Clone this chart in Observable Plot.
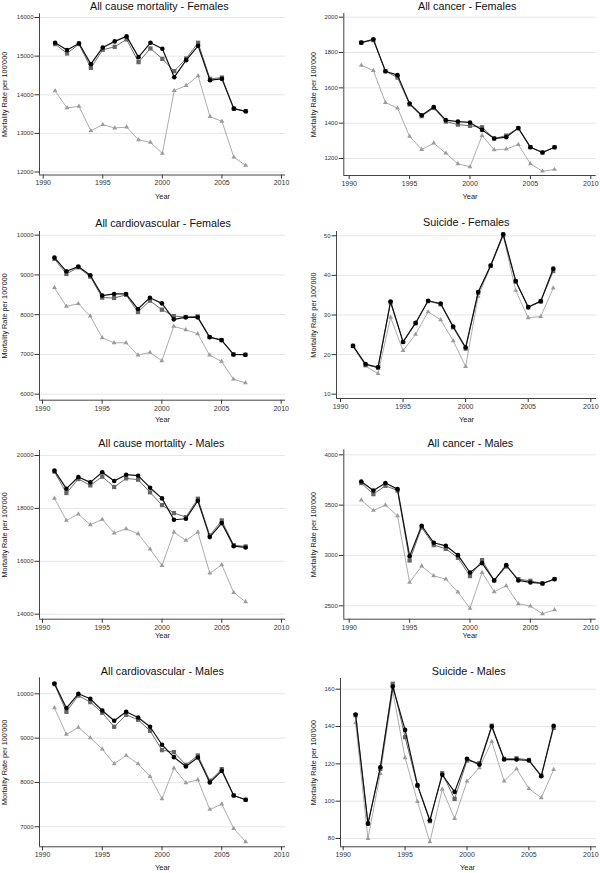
<!DOCTYPE html>
<html>
<head>
<meta charset="utf-8">
<script src="https://cdn.jsdelivr.net/npm/d3@7"></script>
<script src="https://cdn.jsdelivr.net/npm/@observablehq/plot@0.6"></script>
<style>
  body { margin: 0; background: #fff; }
  #wrap { position: relative; width: 600px; height: 873px; overflow: hidden; background: #fff; }
  #wrap svg { position: absolute; }
</style>
</head>
<body>
<div id="wrap"></div>
<script>
// ---------- DATA ----------
const years = [1991, 1992, 1993, 1994, 1995, 1996, 1997, 1998, 1999, 2000, 2001, 2002, 2003, 2004, 2005, 2006, 2007];
const xTicks = [1990, 1995, 2000, 2005, 2010];
const seriesNames = ["Series 1", "Series 2", "Series 3"];

const titles = [
  "All cause mortality - Females", "All cancer - Females",
  "All cardiovascular - Females", "Suicide - Females",
  "All cause mortality - Males", "All cancer - Males",
  "All cardiovascular - Males", "Suicide - Males"
];
const yLabel = "Mortality Rate per 100'000";
const xLabel = "Year";

const yTicks1 = [12000, 13000, 14000, 15000, 16000];
const yTicks2 = [1200, 1400, 1600, 1800, 2000];
const yTicks3 = [6000, 7000, 8000, 9000, 10000];
const yTicks4 = [10, 20, 30, 40, 50];
const yTicks5 = [14000, 16000, 18000, 20000];
const yTicks6 = [2500, 3000, 3500, 4000];
const yTicks7 = [7000, 8000, 9000, 10000];
const yTicks8 = [80, 100, 120, 140, 160];

const acmF_a = [15346, 15156, 15329, 14792, 15225, 15381, 15511, 14974, 15346, 15190, 14455, 14896, 15268, 14377, 14411, 13640, 13571];
const acmF_b = [15312, 15069, 15312, 14697, 15165, 15242, 15433, 14844, 15199, 14930, 14610, 14939, 15346, 14411, 14446, 13640, 13571];
const acmF_c = [14100, 13658, 13701, 13069, 13225, 13139, 13165, 12835, 12766, 12480, 14108, 14238, 14489, 13433, 13312, 12385, 12169];

const canF_a = [1856, 1875, 1694, 1672, 1511, 1445, 1491, 1417, 1409, 1404, 1362, 1313, 1321, 1372, 1264, 1234, 1264];
const canF_b = [1856, 1870, 1694, 1658, 1506, 1440, 1486, 1409, 1392, 1385, 1377, 1313, 1330, 1372, 1264, 1234, 1264];
const canF_c = [1728, 1698, 1517, 1485, 1325, 1251, 1287, 1230, 1170, 1153, 1330, 1249, 1253, 1279, 1170, 1128, 1138];

const cvdF_a = [9436, 9092, 9210, 8992, 8480, 8522, 8522, 8143, 8428, 8285, 7883, 7933, 7933, 7436, 7361, 7000, 6992];
const cvdF_b = [9403, 9025, 9193, 8958, 8430, 8421, 8497, 8067, 8352, 8126, 7966, 7941, 7958, 7436, 7361, 7000, 6992];
const cvdF_c = [8681, 8210, 8277, 7966, 7420, 7294, 7294, 6983, 7050, 6841, 7706, 7622, 7520, 6983, 6824, 6378, 6286];

const suiF_a = [22.2, 17.6, 16.8, 33.4, 23.2, 28.0, 33.6, 32.9, 27.1, 21.8, 35.8, 42.5, 50.4, 38.6, 32.0, 33.5, 41.7];
const suiF_b = [22.2, 17.4, 16.7, 33.2, 23.2, 27.9, 33.5, 32.7, 26.9, 21.5, 35.6, 42.4, 50.3, 38.4, 31.9, 33.4, 41.1];
const suiF_c = [22.1, 17.1, 15.2, 29.4, 21.0, 25.1, 30.8, 28.8, 23.5, 17.0, 34.7, 42.3, 50.0, 36.2, 29.3, 29.6, 36.8];

const acmM_a = [19427, 18745, 19187, 18985, 19364, 19035, 19275, 19237, 18783, 18379, 17571, 17609, 18290, 16914, 17444, 16573, 16523];
const acmM_b = [19389, 18581, 19111, 18871, 19199, 18808, 19136, 19086, 18606, 18126, 17823, 17672, 18366, 16977, 17545, 16611, 16561];
const acmM_c = [18379, 17545, 17785, 17381, 17583, 17066, 17230, 17040, 16460, 15841, 17104, 16788, 17104, 15550, 15866, 14821, 14467];

const canM_a = [3735, 3646, 3719, 3659, 2993, 3295, 3126, 3096, 3003, 2831, 2924, 2752, 2904, 2752, 2732, 2722, 2765];
const canM_b = [3719, 3609, 3692, 3646, 2950, 3278, 3103, 3066, 2977, 2795, 2954, 2752, 2891, 2765, 2748, 2722, 2765];
const canM_c = [3550, 3447, 3500, 3394, 2732, 2894, 2798, 2765, 2636, 2474, 2831, 2639, 2699, 2520, 2497, 2421, 2460];

const cvdM_a = [10233, 9677, 10000, 9887, 9624, 9391, 9594, 9466, 9256, 8850, 8571, 8361, 8564, 8000, 8263, 7707, 7609];
const cvdM_b = [10218, 9594, 9962, 9812, 9571, 9256, 9526, 9414, 9165, 8729, 8684, 8398, 8609, 8038, 8301, 7707, 7609];
const cvdM_c = [9684, 9083, 9241, 9008, 8752, 8421, 8609, 8421, 8135, 7632, 8323, 7992, 8060, 7391, 7511, 6962, 6662];

const suiM_a = [146.4, 87.9, 118.2, 161.4, 138.2, 108.6, 89.8, 114.1, 105.0, 122.7, 119.6, 140.0, 122.3, 122.3, 121.8, 113.4, 140.4];
const suiM_b = [146.1, 88.2, 117.3, 162.9, 134.3, 108.2, 89.3, 115.0, 101.2, 121.8, 120.4, 140.5, 122.7, 123.0, 122.1, 113.7, 139.3];
const suiM_c = [142.0, 80.0, 114.8, 158.9, 123.2, 99.8, 78.2, 106.4, 90.7, 110.7, 117.9, 132.0, 110.7, 117.3, 106.8, 101.8, 116.9];

// ---------- LAYOUT (pixel geometry of each panel, local coordinates) ----------
const panelData = [
  [acmF_a, acmF_b, acmF_c, yTicks1], [canF_a, canF_b, canF_c, yTicks2],
  [cvdF_a, cvdF_b, cvdF_c, yTicks3], [suiF_a, suiF_b, suiF_c, yTicks4],
  [acmM_a, acmM_b, acmM_c, yTicks5], [canM_a, canM_b, canM_c, yTicks6],
  [cvdM_a, cvdM_b, cvdM_c, yTicks7], [suiM_a, suiM_b, suiM_c, yTicks8]
];
const rowTop = [0, 218, 436, 654];
const rowH = [218, 218, 218, 219];
// fl, fr, ft, fb: frame edges; xc/yc: calibration [v1,p1,v2,p2]; t: title center; yl: ylabel x; yr: "Year" center
const layout = [
  {fl: 39,   fr: 285,   ft: 13.3, fb: 174.5, xc: [1990, 42.7, 2010, 281],   yc: [16000, 17, 12000, 171.5], t: [158.8, 5.8], yl: 4.5, yr: [162, 195.7]},
  {fl: 43.3, fr: 295.7, ft: 13,   fb: 175,   xc: [1990, 48.7, 2010, 290.3], yc: [2000, 16.7, 1200, 158],   t: [166.7, 5.8], yl: 13,  yr: [169.5, 195.7]},
  {fl: 39,   fr: 285,   ft: 13,   fb: 181.7, xc: [1990, 42, 2010, 280.7],   yc: [10000, 16.7, 6000, 175.7], t: [162.5, 5],  yl: 4.5, yr: [162, 201]},
  {fl: 36,   fr: 296,   ft: 13,   fb: 180,   xc: [1990, 40, 2010, 290.3],   yc: [50, 17.3, 10, 175.7],     t: [165.8, 4.5], yl: 13,  yr: [166, 201]},
  {fl: 39,   fr: 285,   ft: 14,   fb: 182.7, xc: [1990, 42, 2010, 281],     yc: [20000, 19, 14000, 177.7], t: [160.8, 7.3], yl: 4.5, yr: [162, 199]},
  {fl: 43.3, fr: 295.7, ft: 13.3, fb: 182.7, xc: [1990, 48.7, 2010, 290.3], yc: [4000, 18.3, 2500, 169.3], t: [169.8, 7],   yl: 13,  yr: [169.5, 199]},
  {fl: 39,   fr: 285,   ft: 23.3, fb: 192.3, xc: [1990, 42, 2010, 281],     yc: [10000, 39.3, 7000, 172.3], t: [161.8, 16.7], yl: 4.5, yr: [162, 213]},
  {fl: 40,   fr: 296,   ft: 24,   fb: 192.3, xc: [1990, 42.7, 2010, 290.3], yc: [160, 34.7, 80, 184],      t: [168.2, 16.7], yl: 13,  yr: [167, 213]}
];

const font = "'Liberation Sans', Arial, Helvetica, sans-serif";
const lin = (c, p) => c[0] + (p - c[1]) * (c[2] - c[0]) / (c[3] - c[1]);

const wrap = document.getElementById("wrap");

panelData.forEach(([a, b, c, yTicks], i) => {
  const L = layout[i];
  const col = i % 2, row = Math.floor(i / 2);
  const W = 300, H = rowH[row];
  const rows = (arr, s) => years.map((yr, k) => ({year: yr, value: arr[k], series: s}));
  const ra = rows(a, seriesNames[0]), rb = rows(b, seriesNames[1]), rc = rows(c, seriesNames[2]);
  const xd = [lin(L.xc, L.fl), lin(L.xc, L.fr)];
  const yd = [lin(L.yc, L.fb), lin(L.yc, L.ft)];
  const at = (px, py) => ({frameAnchor: "top-left", dx: px - L.fl, dy: py - L.ft});

  const svg = Plot.plot({
    width: W, height: H,
    marginLeft: L.fl, marginRight: W - L.fr, marginTop: L.ft, marginBottom: H - L.fb,
    x: {domain: xd},
    y: {domain: yd},
    style: {fontFamily: font, background: "transparent", overflow: "visible"},
    marks: [
      Plot.ruleY(yTicks, {stroke: "#e6e6e6", strokeWidth: 1}),
      Plot.axisY({ticks: yTicks, tickSize: 4.5, tickPadding: 1.5, fontSize: 6, label: null, color: "#333", tickFormat: d => String(d)}),
      Plot.axisX({ticks: xTicks, tickSize: 4, tickPadding: 1.5, fontSize: 7, label: null, color: "#333", tickFormat: d => String(d)}),
      Plot.ruleX([xd[0]], {stroke: "#444", strokeWidth: 1}),
      Plot.ruleY([yd[0]], {stroke: "#444", strokeWidth: 1}),
      Plot.line(rc, {x: "year", y: "value", stroke: "#a3a3a3", strokeWidth: 0.9}),
      Plot.dot(rc, {x: "year", y: "value", symbol: "triangle", r: 1.8, fill: "#9c9c9c", stroke: "none"}),
      Plot.line(rb, {x: "year", y: "value", stroke: "#6e6e6e", strokeWidth: 1}),
      Plot.dot(rb, {x: "year", y: "value", symbol: "square", r: 2.4, fill: "#666", stroke: "none"}),
      Plot.line(ra, {x: "year", y: "value", stroke: "#111", strokeWidth: 1.2}),
      Plot.dot(ra, {x: "year", y: "value", symbol: "circle", r: 2.3, fill: "#000", stroke: "none"}),
      Plot.text([titles[i]], {text: d => d, ...at(L.t[0], L.t[1]), textAnchor: "middle", lineAnchor: "middle", fontSize: 10.8, fill: "#111"}),
      Plot.text([yLabel], {text: d => d, ...at(L.yl, (L.ft + L.fb) / 2), textAnchor: "middle", lineAnchor: "middle", rotate: -90, fontSize: 7.3, fill: "#222"}),
      Plot.text([xLabel], {text: d => d, ...at(L.yr[0], L.yr[1]), textAnchor: "middle", lineAnchor: "middle", fontSize: 7.5, fill: "#222"})
    ]
  });
  svg.style.left = (col * 300) + "px";
  svg.style.top = rowTop[row] + "px";
  wrap.appendChild(svg);
});
</script>
</body>
</html>
